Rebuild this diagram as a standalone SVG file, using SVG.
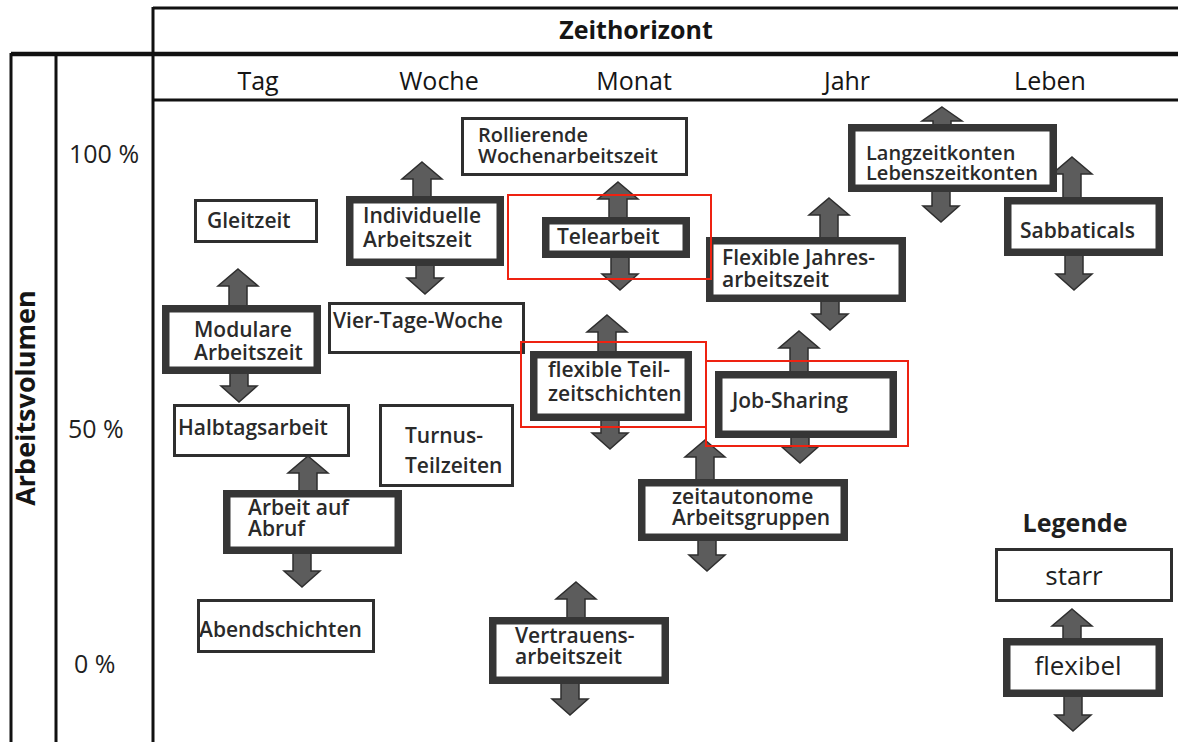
<svg xmlns="http://www.w3.org/2000/svg" width="1178" height="742" viewBox="0 0 1178 742">
<style>
text{font-family:"Open Sans","Noto Sans","DejaVu Sans",sans-serif;fill:#1f1f1f}
.frame{stroke:#111;stroke-width:3;fill:none}
.hd{font-size:25px;fill:#151515}
.ax{font-size:25px}
.b{font-weight:bold}
.t{font-size:21px;font-weight:600;fill:#2a2a2a}
.thin{fill:#fff;stroke:#2f2f2f;stroke-width:3}
.thick{fill:#fff;stroke:#363636;stroke-width:7.5}
.arr{fill:#5c5c5c;stroke:#2e2e2e;stroke-width:1.5;stroke-linejoin:miter}
.hl{fill:none;stroke:#ee2211;stroke-width:2}
</style>
<rect width="1178" height="742" fill="#fff"/>
<g id="frame">
<line class="frame" x1="153" y1="8" x2="1178" y2="8"/>
<line class="frame" x1="11" y1="54" x2="1178" y2="54" style="stroke-width:4.5"/>
<line class="frame" x1="153" y1="100" x2="1178" y2="100"/>
<line class="frame" x1="11" y1="53" x2="11" y2="742"/>
<line class="frame" x1="56" y1="53" x2="56" y2="742"/>
<line class="frame" x1="153" y1="7" x2="153" y2="742"/>
<text class="hd b" x="636" y="39" text-anchor="middle">Zeithorizont</text>
<text class="hd" x="258" y="90" text-anchor="middle">Tag</text>
<text class="hd" x="439" y="90" text-anchor="middle">Woche</text>
<text class="hd" x="634" y="90" text-anchor="middle">Monat</text>
<text class="hd" x="847" y="90" text-anchor="middle">Jahr</text>
<text class="hd" x="1050" y="90" text-anchor="middle">Leben</text>
<text class="ax" x="69" y="163">100 %</text>
<text class="ax" x="68" y="438">50 %</text>
<text class="ax" x="74" y="673">0 %</text>
<text class="hd b" style="font-size:27px" transform="translate(35,398) rotate(-90)" text-anchor="middle">Arbeitsvolumen</text>
</g>
<g id="connectors">
<path class="arr" d="M618,182 L638,199 L627,199 L627,221 L609,221 L609,199 L598,199 Z"/>
<path class="arr" d="M942,107 L962,121 L951,121 L951,128 L933,128 L933,121 L922,121 Z"/>
<path class="arr" d="M1072,157 L1092,174 L1081,174 L1081,201 L1063,201 L1063,174 L1052,174 Z"/>
<path class="arr" d="M422,162 L442,179 L431,179 L431,200 L413,200 L413,179 L402,179 Z"/>
<path class="arr" d="M238,269 L258,286 L247,286 L247,309 L229,309 L229,286 L218,286 Z"/>
<path class="arr" d="M308,456 L328,473 L317,473 L317,494 L299,494 L299,473 L288,473 Z"/>
<path class="arr" d="M607,315 L627,332 L616,332 L616,355 L598,355 L598,332 L587,332 Z"/>
<path class="arr" d="M799,331 L819,348 L808,348 L808,375 L790,375 L790,348 L779,348 Z"/>
<path class="arr" d="M829,198 L849,215 L838,215 L838,241 L820,241 L820,215 L809,215 Z"/>
<path class="arr" d="M705,440 L725,457 L714,457 L714,483 L696,483 L696,457 L685,457 Z"/>
<path class="arr" d="M576,582 L596,599 L585,599 L585,621 L567,621 L567,599 L556,599 Z"/>
<path class="arr" d="M1072,609 L1092,626 L1081,626 L1081,642 L1063,642 L1063,626 L1052,626 Z"/>
<path class="arr" d="M611,254 L629,254 L629,274 L638,274 L620,290 L602,274 L611,274 Z"/>
<path class="arr" d="M932,188 L950,188 L950,206 L959,206 L941,222 L923,206 L932,206 Z"/>
<path class="arr" d="M1065,252 L1083,252 L1083,274 L1092,274 L1074,290 L1056,274 L1065,274 Z"/>
<path class="arr" d="M416,262 L434,262 L434,278 L443,278 L425,294 L407,278 L416,278 Z"/>
<path class="arr" d="M230,370 L248,370 L248,386 L257,386 L239,402 L221,386 L230,386 Z"/>
<path class="arr" d="M293,550 L311,550 L311,571 L320,571 L302,587 L284,571 L293,571 Z"/>
<path class="arr" d="M601,417 L619,417 L619,433 L628,433 L610,449 L592,433 L601,433 Z"/>
<path class="arr" d="M791,434 L809,434 L809,447 L818,447 L800,463 L782,447 L791,447 Z"/>
<path class="arr" d="M821,298 L839,298 L839,314 L848,314 L830,330 L812,314 L821,314 Z"/>
<path class="arr" d="M698,537 L716,537 L716,555 L725,555 L707,571 L689,555 L698,555 Z"/>
<path class="arr" d="M561,680 L579,680 L579,699 L588,699 L570,715 L552,699 L561,699 Z"/>
<path class="arr" d="M1064,693 L1082,693 L1082,715 L1091,715 L1073,731 L1055,715 L1064,715 Z"/>
</g>
<g id="rollierende"><rect class="thin" x="462.5" y="118.5" width="224" height="56"/><text class="t" style="font-size:20px" x="478" y="142">Rollierende<tspan x="478" y="163">Wochenarbeitszeit</tspan></text></g>
<g id="telearbeit"><rect class="thick" x="545.75" y="220.75" width="140.5" height="33.5"/><text class="t" x="557" y="244">Telearbeit</text></g>
<g id="langzeitkonten"><rect class="thick" x="851.75" y="127.75" width="201.5" height="60.5"/><text class="t" style="font-size:20px" x="866" y="160">Langzeitkonten<tspan x="866" y="180">Lebenszeitkonten</tspan></text></g>
<g id="sabbaticals"><rect class="thick" x="1007.75" y="200.75" width="151.5" height="51.5"/><text class="t" x="1020" y="238">Sabbaticals</text></g>
<g id="gleitzeit"><rect class="thin" x="195.5" y="200.5" width="121" height="41"/><text class="t" x="207" y="228">Gleitzeit</text></g>
<g id="individuelle"><rect class="thick" x="349.75" y="199.75" width="150.5" height="62.5"/><text class="t" x="363" y="223">Individuelle<tspan x="363" y="247">Arbeitszeit</tspan></text></g>
<g id="viertage"><rect class="thin" x="329.5" y="303.5" width="194" height="49"/><text class="t" x="333" y="328">Vier-Tage-Woche</text></g>
<g id="modulare"><rect class="thick" x="165.75" y="308.75" width="151.5" height="61.5"/><text class="t" x="194" y="337">Modulare<tspan x="194" y="360">Arbeitszeit</tspan></text></g>
<g id="halbtags"><rect class="thin" x="174.5" y="405.5" width="174" height="50"/><text class="t" x="178" y="435">Halbtagsarbeit</text></g>
<g id="turnus"><rect class="thin" x="380.5" y="405.5" width="132" height="80"/><text class="t" x="405" y="443">Turnus-<tspan x="405" y="473">Teilzeiten</tspan></text></g>
<g id="abruf"><rect class="thick" x="226.75" y="493.75" width="171.5" height="56.5"/><text class="t" x="248" y="515">Arbeit auf<tspan x="248" y="536">Abruf</tspan></text></g>
<g id="abendschichten"><rect class="thin" x="198.5" y="600.5" width="175" height="51"/><text class="t" x="199" y="637">Abendschichten</text></g>
<g id="teilzeitschichten"><rect class="thick" x="533.75" y="354.75" width="154.5" height="62.5"/><text class="t" x="548" y="377">flexible Teil-<tspan x="548" y="401">zeitschichten</tspan></text></g>
<g id="jobsharing"><rect class="thick" x="718.75" y="374.75" width="174.5" height="59.5"/><text class="t" x="732" y="408">Job-Sharing</text></g>
<g id="jahresarbeitszeit"><rect class="thick" x="709.75" y="240.75" width="192.5" height="57.5"/><text class="t" x="722" y="265">Flexible Jahres-<tspan x="722" y="287">arbeitszeit</tspan></text></g>
<g id="zeitautonome"><rect class="thick" x="641.75" y="482.75" width="202.5" height="54.5"/><text class="t" x="672" y="504">zeitautonome<tspan x="672" y="525">Arbeitsgruppen</tspan></text></g>
<g id="vertrauens"><rect class="thick" x="492.75" y="620.75" width="172.5" height="59.5"/><text class="t" x="515" y="643">Vertrauens-<tspan x="515" y="664">arbeitszeit</tspan></text></g>
<g id="legende">
<text class="b" style="font-size:25px" x="1075" y="532" text-anchor="middle">Legende</text>
<rect class="thin" x="996.5" y="549.5" width="175" height="51"/><text style="font-size:26px" x="1074" y="585" text-anchor="middle">starr</text>
<rect class="thick" x="1006.75" y="641.75" width="152.5" height="51.5"/><text style="font-size:26px" x="1078" y="675" text-anchor="middle">flexibel</text>
</g>
<g id="highlights">
<rect class="hl" x="508" y="195" width="203" height="84"/>
<rect class="hl" x="521" y="342" width="185" height="85"/>
<rect class="hl" x="706" y="361" width="202" height="85"/>
</g>
</svg>
